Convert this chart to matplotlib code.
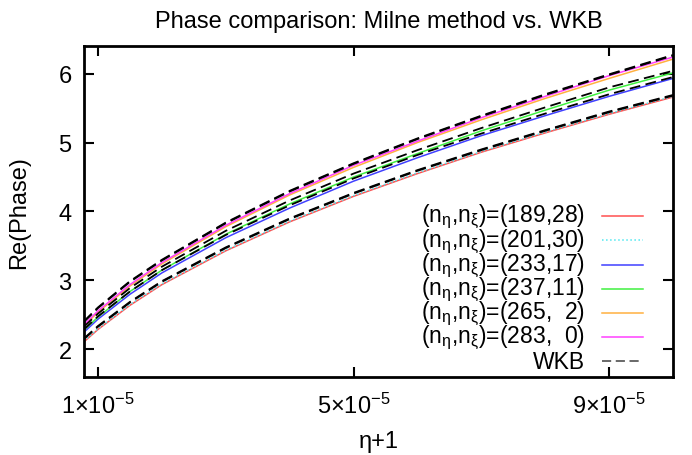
import matplotlib
matplotlib.use('Agg')
import matplotlib.pyplot as plt
import numpy as np

plt.rcParams['font.family'] = ['Liberation Sans', 'DejaVu Sans']
plt.rcParams['mathtext.fontset'] = 'custom'
plt.rcParams['mathtext.rm'] = 'Liberation Sans'
plt.rcParams['mathtext.it'] = 'Liberation Sans'
plt.rcParams['font.size'] = 17

# x = eta+1 (units of 1e-5)
x_vals = np.array([0.78, 1.0, 1.5, 2.0, 3.0, 4.0, 5.0, 6.0, 7.0, 8.0, 9.0, 10.0]) * 1e-5

# Milne method phases
milne_189_28 = [2.11, 2.29, 2.64, 2.94, 3.43, 3.85, 4.22, 4.55, 4.86, 5.14, 5.41, 5.66]
milne_201_30 = [2.12, 2.30, 2.65, 2.95, 3.44, 3.86, 4.23, 4.56, 4.87, 5.15, 5.42, 5.67]
milne_233_17 = [2.25, 2.44, 2.80, 3.11, 3.62, 4.05, 4.44, 4.78, 5.10, 5.39, 5.67, 5.93]
milne_237_11 = [2.28, 2.47, 2.84, 3.15, 3.67, 4.11, 4.50, 4.84, 5.17, 5.47, 5.76, 6.01]
milne_265_2 = [2.34, 2.54, 2.92, 3.24, 3.78, 4.24, 4.64, 5.00, 5.33, 5.64, 5.93, 6.21]
milne_283_0 = [2.36, 2.56, 2.94, 3.26, 3.80, 4.26, 4.67, 5.02, 5.36, 5.67, 5.97, 6.24]

# WKB phases
wkb_189_28 = [2.15, 2.33, 2.68, 2.98, 3.47, 3.89, 4.26, 4.59, 4.89, 5.17, 5.44, 5.68]
wkb_201_30 = [2.16, 2.34, 2.69, 2.99, 3.48, 3.90, 4.27, 4.60, 4.90, 5.18, 5.45, 5.69]
wkb_233_17 = [2.29, 2.48, 2.84, 3.15, 3.66, 4.09, 4.48, 4.82, 5.13, 5.42, 5.70, 5.95]
wkb_237_11 = [2.33, 2.52, 2.89, 3.20, 3.72, 4.16, 4.55, 4.89, 5.21, 5.51, 5.80, 6.04]
wkb_265_2 = [2.40, 2.60, 2.98, 3.29, 3.83, 4.29, 4.69, 5.05, 5.38, 5.69, 5.98, 6.26]
wkb_283_0 = [2.41, 2.61, 2.99, 3.30, 3.84, 4.30, 4.70, 5.06, 5.39, 5.70, 5.99, 6.27]

labels = [r'(n$_{η}$,n$_{ξ}$)=(189,28)',
          r'(n$_{η}$,n$_{ξ}$)=(201,30)',
          r'(n$_{η}$,n$_{ξ}$)=(233,17)',
          r'(n$_{η}$,n$_{ξ}$)=(237,11)',
          r'(n$_{η}$,n$_{ξ}$)=(265,  2)',
          r'(n$_{η}$,n$_{ξ}$)=(283,  0)']

xtick_vals = [1e-5, 5e-5, 9e-5]
xtick_labels = [r'1$\times$10$^{-5}$', r'5$\times$10$^{-5}$', r'9$\times$10$^{-5}$']
ytick_vals = [2, 3, 4, 5, 6]

milne = [milne_189_28, milne_201_30, milne_233_17, milne_237_11, milne_265_2, milne_283_0]
wkb = [wkb_189_28, wkb_201_30, wkb_233_17, wkb_237_11, wkb_265_2, wkb_283_0]
colors = ['#ff5050', '#50e8f0', '#4040ff', '#40f040', '#ffb040', '#ff40ff']
styles = ['-', ':', '-', '-', '-', '-']
wkb_dash = (0, (6, 3))

fig = plt.figure(figsize=(6.92, 4.56), dpi=100)
ax = fig.add_axes([0.1214, 0.1711, 0.8511, 0.7258])

for m, c, s in zip(milne, colors, styles):
    ax.plot(x_vals, m, color=c, linestyle=s, linewidth=1.1)
for w in wkb:
    ax.plot(x_vals, w, color='black', linestyle=wkb_dash, linewidth=1.3)

ax.set_xlim(0.78e-5, 1.0e-4)
ax.set_ylim(1.6, 6.4)
ax.set_xticks(xtick_vals)
ax.set_xticklabels(xtick_labels)
ax.set_yticks(ytick_vals)
ax.tick_params(direction='in', length=7, width=1.5, top=True, right=True)
ax.tick_params(axis='x', pad=11)
ax.tick_params(axis='y', pad=9)
for sp in ax.spines.values():
    sp.set_linewidth(2)

ax.set_title('Phase comparison: Milne method vs. WKB', fontsize=17, pad=14)
ax.set_xlabel('η+1', labelpad=9)
ax.set_ylabel('Re(Phase)', labelpad=20)

# gnuplot style key: right-aligned text, sample line to the right
row_y = 0.486
step = 0.0731
for lab, c, s in zip(labels + ['WKB'], colors + ['#404040'], styles + [wkb_dash]):
    ax.text(0.851, row_y, lab, transform=ax.transAxes, ha='right', va='center',
            fontsize=16.5)
    ax.plot([0.88, 0.949], [row_y, row_y], transform=ax.transAxes, color=c,
            linestyle=s, linewidth=1.1)
    row_y -= step

fig.savefig('out.png', dpi=100)
